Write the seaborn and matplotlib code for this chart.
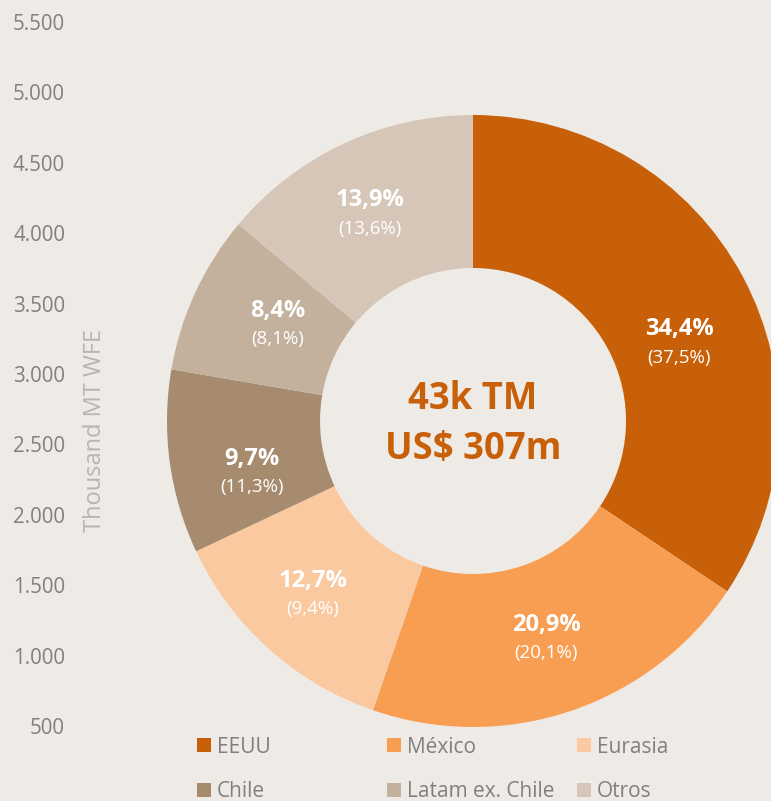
import numpy as np
import matplotlib
matplotlib.use("Agg")
import matplotlib.pyplot as plt
from matplotlib.patches import Patch
import seaborn as sns

# ---- data ----
categories = ["EEUU", "México", "Eurasia", "Chile", "Latam ex. Chile", "Otros"]
share_now = [34.4, 20.9, 12.7, 9.7, 8.4, 13.9]
share_prev = [37.5, 20.1, 9.4, 11.3, 8.1, 13.6]
center_lines = ["43k TM", "US$ 307m"]
y_ticks = [500, 1000, 1500, 2000, 2500, 3000, 3500, 4000, 4500, 5000, 5500]
y_label = "Thousand MT WFE"

# ---- style ----
colors = ["#C8600A", "#F89E53", "#FAC9A0", "#A68B6E", "#C4B19D", "#D5C6B7"]
bg = "#EEEAE6"
sns.set_theme(style="white")
plt.rcParams["font.family"] = ["Open Sans", "DejaVu Sans"]

W, H = 771, 801
fig = plt.figure(figsize=(W / 100, H / 100), dpi=100, facecolor=bg)

def fx(px):
    return px / W

def fy(py):
    return (H - py) / H

# value axis (left)
y_top, y_bot = 22, 726
ax = fig.add_axes([fx(72), fy(y_bot), fx(600), (y_bot - y_top) / H])
ax.set_facecolor("none")
ax.set_ylim(min(y_ticks), max(y_ticks))
ax.set_yticks(y_ticks)
ax.set_yticklabels([f"{v:,}".replace(",", ".") for v in y_ticks])
ax.set_xticks([])
ax.tick_params(axis="y", length=0, pad=5, labelsize=14.8, labelcolor="#808080")
for s in ax.spines.values():
    s.set_visible(False)
fig.text(fx(95), fy(431), y_label, rotation=90, ha="center", va="center",
         fontsize=17, color="#B5B5B5")

# donut
cx, cy, R = 473, 421, 306
pax = fig.add_axes([fx(cx - R), fy(cy + R), 2 * R / W, 2 * R / H])
pax.set_facecolor("none")
pax.pie(share_now, colors=colors, startangle=90, counterclock=False, radius=1,
        wedgeprops=dict(width=0.5, edgecolor="none", linewidth=0))
pax.set_xlim(-1, 1)
pax.set_ylim(-1, 1)
pax.set_aspect("auto")
pax.axis("off")

# slice labels
nudge = [(0.013, -0.1), (0.0, 0.0), (-0.023, -0.01), (0.02, -0.07), (0.042, 0.0), (-0.02, -0.005)]
cum = np.cumsum([0] + share_now)
tot = sum(share_now)
r_lab = 0.75
for i, (v, p) in enumerate(zip(share_now, share_prev)):
    mid = 90 - (cum[i] + v / 2) / tot * 360
    x = r_lab * np.cos(np.radians(mid)) + nudge[i][0]
    y = r_lab * np.sin(np.radians(mid)) + nudge[i][1]
    pax.text(x, y + 0.046, f"{v:.1f}%".replace(".", ","), ha="center", va="center",
             fontsize=17, fontweight="bold", color="white")
    pax.text(x, y - 0.046, f"({p:.1f}%)".replace(".", ","), ha="center", va="center",
             fontsize=13.5, color="white")

# center text
pax.text(0, 0.072, center_lines[0], ha="center", va="center", fontsize=26.3,
         fontweight="bold", color="#C8600A")
pax.text(0, -0.09, center_lines[1], ha="center", va="center", fontsize=26.3,
         fontweight="bold", color="#C8600A")

# legend: 3 columns x 2 rows
col_x = [197, 387, 577]
for c in range(3):
    idx = [c, c + 3]
    handles = [Patch(facecolor=colors[k], edgecolor="none") for k in idx]
    fig.legend(handles, [categories[k] for k in idx], loc="center left",
               bbox_to_anchor=(fx(col_x[c]), fy(769.5)), frameon=False,
               borderpad=0, borderaxespad=0, handlelength=0.65, handleheight=0.65,
               handletextpad=0.3, labelspacing=1.15, fontsize=15,
               labelcolor="#808080")

fig.savefig("out.png", dpi=100, facecolor=bg)
